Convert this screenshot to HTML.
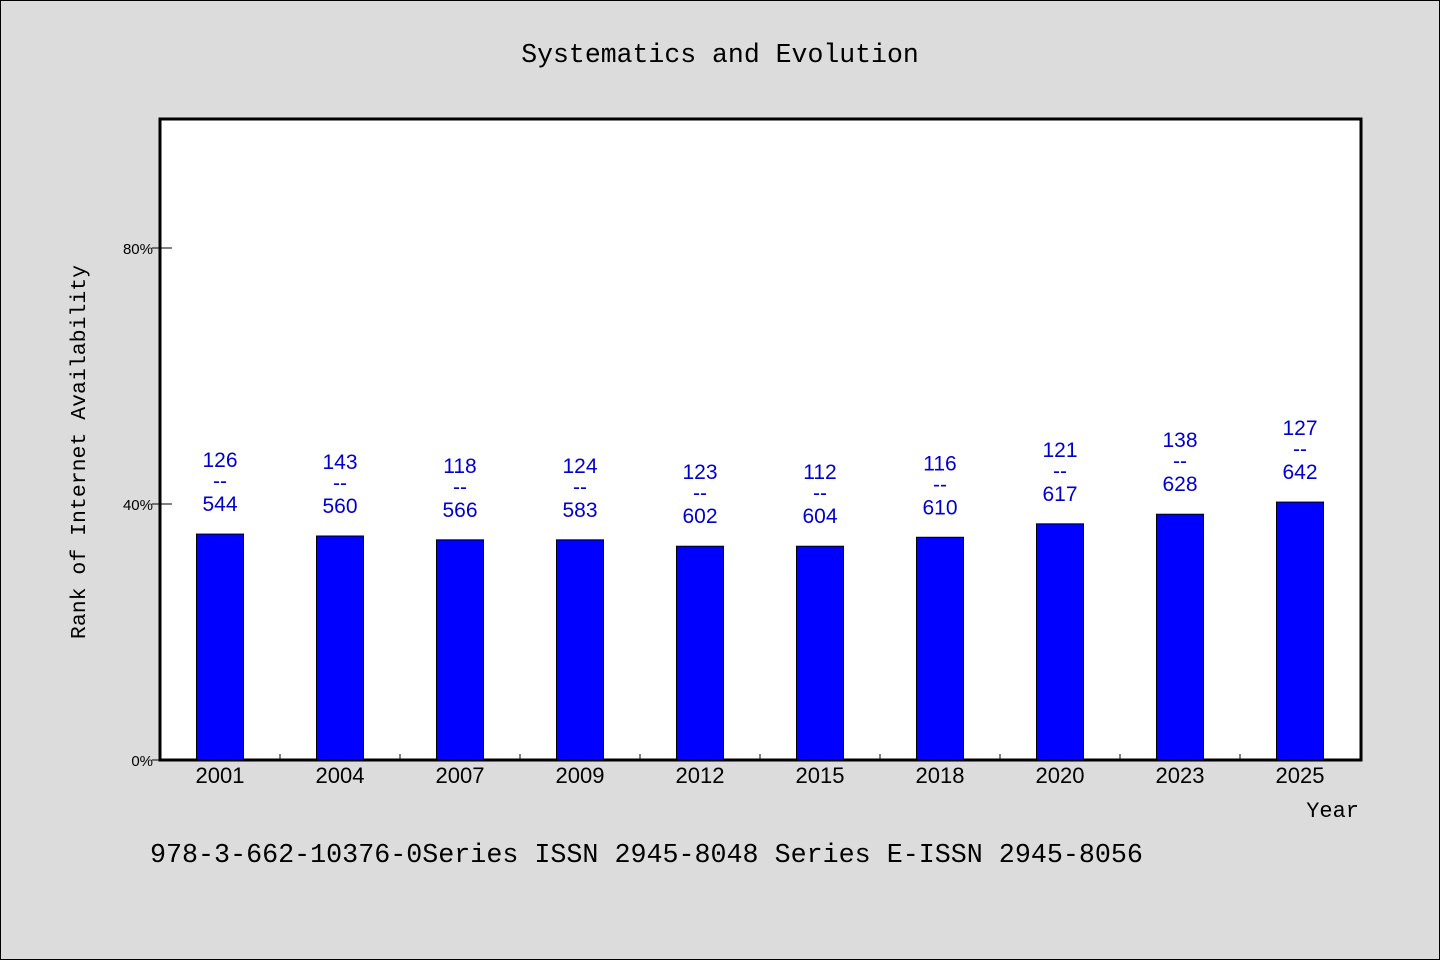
<!DOCTYPE html>
<html><head><meta charset="utf-8"><style>
body{margin:0;background:#dcdcdc;}
svg{display:block}
</style></head><body>
<svg width="1440" height="960" xmlns="http://www.w3.org/2000/svg">
<rect x="0.5" y="0.5" width="1439" height="959" fill="#dcdcdc" stroke="#000"/>
<text x="720" y="62" text-anchor="middle" font-family="Liberation Mono, monospace" font-size="26.5">Systematics and Evolution</text>
<rect x="160" y="119" width="1201" height="641" fill="#fff" stroke="#000" stroke-width="3"/>
<g id="bars"></g>
<text transform="translate(85,452) rotate(-90)" text-anchor="middle" font-family="Liberation Mono, monospace" font-size="21.5">Rank of Internet Availability</text>
<text x="1359" y="817" text-anchor="end" font-family="Liberation Mono, monospace" font-size="22">Year</text>
<text x="150" y="862" font-family="Liberation Mono, monospace" font-size="26.7">978-3-662-10376-0Series ISSN 2945-8048 Series E-ISSN 2945-8056</text>
</svg>
<script>
const categories=["2001","2004","2007","2009","2012","2015","2018","2020","2023","2025"];
const values=[35.3,35.0,34.4,34.4,33.4,33.4,34.8,36.9,38.4,40.3];
const topLabels=["126","143","118","124","123","112","116","121","138","127"];
const bottomLabels=["544","560","566","583","602","604","610","617","628","642"];
const yTicks=[0,40,80];
const NS="http://www.w3.org/2000/svg";
const g=document.getElementById('bars');
const x0=160,band=120,y0=760,pxPer=6.4;
const xs=i=>x0+band*i+band/2;
const ys=v=>y0-v*pxPer;
function mk(t,a){const e=document.createElementNS(NS,t);for(const k in a)e.setAttribute(k,a[k]);g.appendChild(e);return e;}
yTicks.forEach(t=>{
 const l=mk('line',{x1:152,x2:172,y1:ys(t),y2:ys(t),stroke:'#000','stroke-width':1});
 
 
 const tx=mk('text',{x:153,y:ys(t)+6,'text-anchor':'end','font-family':'Liberation Sans, sans-serif','font-size':15});
 tx.textContent=t+'%';
 
 
});
categories.forEach((c,i)=>{
 if(i>0){const tk=mk('line',{x1:x0+band*i,x2:x0+band*i,y1:760,y2:754,stroke:'#000'});
 
 }
 const cx=xs(i),top=ys(values[i]);
 const r=mk('rect',{x:cx-23.5,y:top,width:47,height:y0-top,fill:'#0000ff',stroke:'#000','stroke-width':1});
 
 
 const t1=mk('text',{x:cx,y:top-67,'text-anchor':'middle',fill:'#0000cc','font-family':'Liberation Sans, sans-serif','font-size':21});
 t1.textContent=topLabels[i];
 
 
 const d=mk('text',{x:cx,y:top-46,'text-anchor':'middle',fill:'#0000cc','font-family':'Liberation Sans, sans-serif','font-size':21});
 d.textContent='--';
 
 
 const t2=mk('text',{x:cx,y:top-23,'text-anchor':'middle',fill:'#0000cc','font-family':'Liberation Sans, sans-serif','font-size':21});
 t2.textContent=bottomLabels[i];
 
 
 const xl=mk('text',{x:cx,y:783,'text-anchor':'middle','font-family':'Liberation Sans, sans-serif','font-size':22});
 xl.textContent=c;
 
 
});
</script>
</body></html>
